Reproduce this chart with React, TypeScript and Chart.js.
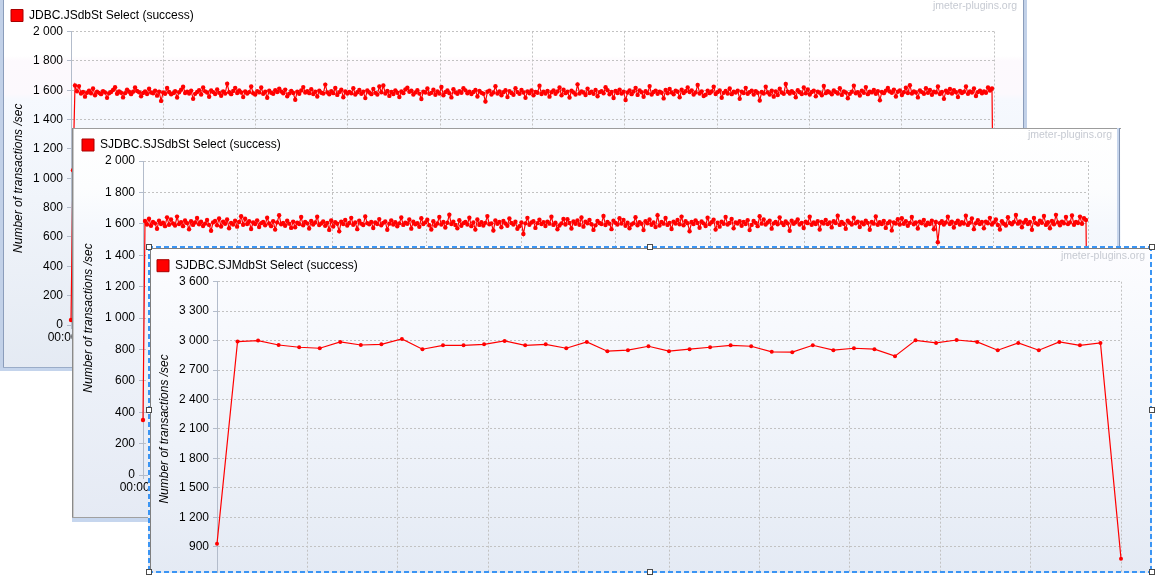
import React, { useEffect, useRef } from "react";
import { Chart, registerables } from "chart.js";

Chart.register(...registerables);

// ---------------- data ----------------
const SERIES_1_LABEL = "JDBC.JSdbSt Select (success)";
const SERIES_2_LABEL = "SJDBC.SJSdbSt Select (success)";
const SERIES_3_LABEL = "SJDBC.SJMdbSt Select (success)";
const Y_TITLE = "Number of transactions /sec";
const WATERMARK = "jmeter-plugins.org";

const SERIES_1_VALUES = [
  34, 1055, 1632, 1592, 1628, 1578, 1588, 1556, 1583, 1597, 1579, 1612, 1566, 1590, 1582, 1573, 1594, 1585, 1548, 1579,
  1588, 1601, 1620, 1576, 1592, 1583, 1551, 1580, 1604, 1589, 1573, 1589, 1618, 1595, 1586, 1558, 1581, 1592, 1574, 1610,
  1584, 1579, 1597, 1563, 1590, 1527, 1584, 1576, 1615, 1588, 1572, 1580, 1593, 1550, 1586, 1603, 1624, 1581, 1590, 1577,
  1596, 1541, 1575, 1588, 1600, 1571, 1619, 1592, 1584, 1555, 1598, 1587, 1574, 1605, 1582, 1562, 1591, 1577, 1644, 1586,
  1573, 1595, 1616, 1581, 1599, 1584, 1553, 1592, 1578, 1587, 1625, 1579, 1571, 1594, 1585, 1618, 1575, 1589, 1549, 1597,
  1583, 1576, 1600, 1588, 1611, 1591, 1579, 1604, 1558, 1577, 1595, 1581, 1535, 1590, 1576, 1598, 1621, 1584, 1593, 1580,
  1607, 1574, 1589, 1557, 1596, 1583, 1577, 1638, 1585, 1572, 1594, 1580, 1615, 1568, 1587, 1603, 1552, 1591, 1578, 1588,
  1579, 1614, 1571, 1586, 1601, 1575, 1590, 1546, 1598, 1584, 1573, 1609, 1582, 1570, 1626, 1586, 1632, 1578, 1595, 1561,
  1588, 1574, 1599, 1583, 1554, 1592, 1580, 1605, 1617, 1589, 1596, 1571, 1585, 1600, 1577, 1540, 1590, 1584, 1612, 1575,
  1582, 1603, 1569, 1591, 1578, 1622, 1566, 1587, 1598, 1580, 1551, 1606, 1585, 1576, 1593, 1583, 1614, 1599, 1579, 1590,
  1574, 1588, 1601, 1557, 1595, 1582, 1576, 1523, 1589, 1597, 1571, 1584, 1627, 1578, 1591, 1566, 1586, 1600, 1553, 1594,
  1581, 1569, 1613, 1587, 1575, 1602, 1584, 1548, 1592, 1579, 1598, 1565, 1588, 1583, 1630, 1574, 1590, 1577, 1595, 1556,
  1586, 1599, 1576, 1591, 1618, 1565, 1603, 1580, 1589, 1550, 1596, 1585, 1571, 1640, 1578, 1592, 1584, 1567, 1611, 1581,
  1590, 1575, 1602, 1559, 1587, 1594, 1579, 1620, 1600, 1572, 1588, 1547, 1595, 1581, 1604, 1577, 1589, 1533, 1584, 1598,
  1573, 1591, 1616, 1568, 1599, 1586, 1555, 1593, 1580, 1628, 1571, 1588, 1597, 1575, 1590, 1583, 1544, 1601, 1579, 1609,
  1585, 1572, 1597, 1589, 1552, 1603, 1581, 1593, 1619, 1588, 1599, 1570, 1585, 1636, 1578, 1592, 1560, 1569, 1596, 1580,
  1591, 1623, 1574, 1587, 1598, 1549, 1582, 1595, 1578, 1612, 1573, 1589, 1584, 1596, 1541, 1590, 1581, 1616, 1576, 1587,
  1597, 1570, 1593, 1583, 1530, 1588, 1578, 1624, 1585, 1571, 1596, 1556, 1591, 1567, 1610, 1584, 1575, 1642, 1589, 1577,
  1594, 1582, 1552, 1600, 1586, 1574, 1619, 1579, 1605, 1571, 1588, 1597, 1558, 1590, 1583, 1566, 1629, 1580, 1593, 1585,
  1572, 1598, 1587, 1577, 1613, 1568, 1591, 1584, 1545, 1575, 1589, 1631, 1579, 1586, 1564, 1597, 1582, 1621, 1573, 1590,
  1585, 1601, 1576, 1593, 1532, 1588, 1580, 1597, 1615, 1591, 1583, 1604, 1557, 1589, 1598, 1567, 1586, 1617, 1581, 1634,
  1578, 1592, 1584, 1551, 1599, 1587, 1576, 1614, 1582, 1601, 1569, 1590, 1585, 1625, 1574, 1588, 1541, 1596, 1583, 1609,
  1577, 1600, 1586, 1553, 1595, 1581, 1589, 1626, 1575, 1592, 1584, 1612, 1560, 1587, 1596, 1579, 1591, 1583, 1619, 1598,
  1612, 180,
];

const SERIES_2_VALUES = [
  350, 1618, 1596, 1632, 1588, 1612, 1603, 1568, 1620, 1599, 1607, 1585, 1641, 1594, 1628, 1602, 1589, 1646, 1598, 1610,
  1585, 1621, 1604, 1565, 1617, 1593, 1608, 1637, 1597, 1613, 1586, 1601, 1624, 1593, 1556, 1609, 1618, 1590, 1634, 1583,
  1614, 1600, 1627, 1572, 1606, 1596, 1619, 1582, 1611, 1648, 1594, 1632, 1598, 1616, 1567, 1608, 1599, 1622, 1580, 1604,
  1612, 1591, 1639, 1602, 1585, 1617, 1563, 1609, 1655, 1597, 1605, 1588, 1620, 1601, 1574, 1614, 1578, 1607, 1599, 1643,
  1590, 1611, 1603, 1570, 1618, 1596, 1608, 1645, 1592, 1602, 1615, 1587, 1606, 1561, 1621, 1583, 1610, 1600, 1552, 1613,
  1598, 1624, 1589, 1605, 1638, 1594, 1609, 1566, 1620, 1601, 1592, 1647, 1604, 1597, 1612, 1573, 1608, 1599, 1630, 1590,
  1606, 1615, 1562, 1601, 1622, 1596, 1610, 1584, 1603, 1640, 1593, 1607, 1600, 1628, 1569, 1613, 1597, 1604, 1581, 1636,
  1599, 1609, 1626, 1591, 1564, 1617, 1588, 1602, 1644, 1595, 1611, 1576, 1607, 1658, 1598, 1614, 1592, 1571, 1623, 1587,
  1604, 1612, 1596, 1639, 1585, 1608, 1563, 1627, 1593, 1610, 1589, 1606, 1649, 1597, 1603, 1557, 1621, 1600, 1611, 1578,
  1618, 1602, 1588, 1634, 1605, 1595, 1613, 1568, 1584, 1609, 1535, 1603, 1638, 1594, 1608, 1617, 1574, 1604, 1626, 1598,
  1610, 1586, 1614, 1601, 1645, 1593, 1607, 1565, 1589, 1603, 1631, 1596, 1629, 1605, 1570, 1615, 1600, 1621, 1594, 1640,
  1582, 1613, 1603, 1624, 1597, 1561, 1590, 1618, 1605, 1599, 1650, 1592, 1611, 1601, 1566, 1620, 1606, 1595, 1636, 1602,
  1625, 1588, 1607, 1572, 1596, 1604, 1642, 1591, 1610, 1600, 1560, 1616, 1603, 1627, 1594, 1608, 1579, 1654, 1589, 1612,
  1601, 1637, 1593, 1606, 1567, 1614, 1602, 1624, 1597, 1646, 1590, 1617, 1604, 1553, 1611, 1599, 1622, 1605, 1575, 1615,
  1603, 1586, 1639, 1598, 1610, 1626, 1563, 1607, 1582, 1613, 1600, 1644, 1596, 1605, 1631, 1571, 1609, 1602, 1616, 1588,
  1612, 1599, 1623, 1560, 1593, 1618, 1606, 1585, 1648, 1601, 1628, 1595, 1608, 1620, 1569, 1603, 1611, 1597, 1641, 1606,
  1592, 1615, 1603, 1556, 1619, 1600, 1610, 1627, 1596, 1606, 1573, 1613, 1604, 1645, 1594, 1609, 1599, 1617, 1564, 1611,
  1602, 1624, 1598, 1608, 1577, 1616, 1605, 1652, 1593, 1611, 1600, 1568, 1619, 1607, 1596, 1639, 1603, 1614, 1580, 1609,
  1597, 1620, 1606, 1562, 1612, 1601, 1647, 1594, 1610, 1599, 1618, 1574, 1604, 1615, 1558, 1608, 1602, 1629, 1595, 1635,
  1600, 1617, 1588, 1606, 1643, 1597, 1609, 1570, 1614, 1603, 1625, 1590, 1607, 1598, 1619, 1565, 1611, 1483, 1604, 1616,
  1595, 1608, 1645, 1599, 1613, 1576, 1605, 1620, 1596, 1610, 1602, 1651, 1593, 1607, 1634, 1566, 1604, 1623, 1598, 1611,
  1571, 1614, 1603, 1638, 1596, 1609, 1628, 1592, 1564, 1617, 1600, 1589, 1642, 1605, 1597, 1612, 1656, 1601, 1615, 1578,
  1608, 1624, 1599, 1611, 1562, 1637, 1604, 1596, 1620, 1606, 1650, 1593, 1610, 1572, 1618, 1597, 1657, 1608, 1590, 1614,
  1603, 1643, 1598, 1609, 1653, 1594, 1612, 1605, 1646, 1600, 1636, 1624, 300,
];

const SERIES_3_VALUES = [
  930, 2990, 3000, 2955, 2932, 2922, 2986, 2955, 2962, 3016, 2912, 2952, 2952, 2962, 2996, 2952, 2962, 2922, 2986, 2892,
  2902, 2942, 2892, 2912, 2932, 2952, 2942, 2885, 2882, 2952, 2902, 2922, 2912, 2841, 3003, 2976, 3006, 2986, 2902, 2976,
  2902, 2986, 2952, 2976, 778,
];

const X1_TICK_LABELS = ["00:00:00", "00:01:32", "00:03:04", "00:04:36", "00:06:08", "00:07:40", "00:09:12", "00:10:44", "00:12:16", "00:13:48", "00:15:20"];
const X2_TICK_LABELS = ["00:00:00", "00:01:34", "00:03:08", "00:04:42", "00:06:16", "00:07:50", "00:09:24", "00:10:58", "00:12:32", "00:14:06", "00:15:40"];
const X3_TICK_LABELS = ["00:00:00", "00:04:24", "00:08:48", "00:13:12", "00:17:36", "00:22:00", "00:26:24", "00:30:48", "00:35:12", "00:39:36", "00:44:00"];

const Y1_TICKS = [0, 200, 400, 600, 800, 1000, 1200, 1400, 1600, 1800, 2000];
const Y2_TICKS = [0, 200, 400, 600, 800, 1000, 1200, 1400, 1600, 1800, 2000];
const Y3_TICKS = [900, 1200, 1500, 1800, 2100, 2400, 2700, 3000, 3300, 3600];
const Y1_RANGE = [0, 2000];
const Y2_RANGE = [0, 2000];
const Y3_RANGE = [600, 3600];

// ---------------- styling ----------------
const FONT_FAMILY = "'Liberation Sans', Arial, Helvetica, sans-serif";
const GRID_COLOR = "#c2c2c2";
const AXIS_COLOR = "#b3bccb";
const LINE_RED = "#ff0000";

type Layout = {
  w: number;
  h: number;
  left: number;
  top: number;
  right: number;
  bottom: number;
  padLeft: number;
  padTop: number;
  legendPad: number;
  titlePad: number;
};

const LAYOUT_1: Layout = { w: 1023, h: 368, left: 71, top: 31.5, right: 994, bottom: 325, padLeft: 4, padTop: 0, legendPad: 7, titlePad: 7 };
const LAYOUT_2: Layout = { w: 1047, h: 390, left: 71, top: 33, right: 1016, bottom: 347, padLeft: 2, padTop: 0, legendPad: 8, titlePad: 7.8 };
const LAYOUT_3: Layout = { w: 1003, h: 370, left: 69, top: 35.7, right: 973, bottom: 330.1, padLeft: 0, padTop: 2, legendPad: 9, titlePad: 9.8 };

function withSpaces(v: number): string {
  return String(Math.round(v)).replace(/\B(?=(\d{3})+(?!\d))/g, " ");
}

function makeConfig(
  label: string,
  values: number[],
  xLabels: string[],
  yTicks: number[],
  yRange: number[],
  L: Layout,
  pointRadius: number
): any {
  const n = values.length;
  const tickFont = { family: FONT_FAMILY, size: 12 };
  const grid = { color: GRID_COLOR, lineWidth: 1, tickLength: 4, tickColor: AXIS_COLOR, tickWidth: 1 };
  const border = { display: true, color: AXIS_COLOR, width: 1, dash: [2, 2] };
  return {
    type: "line",
    data: {
      datasets: [
        {
          label,
          data: values.map((v, i) => ({ x: i, y: v })),
          borderColor: LINE_RED,
          backgroundColor: LINE_RED,
          pointBackgroundColor: LINE_RED,
          borderWidth: 1.2,
          pointRadius,
          pointBorderWidth: 0,
          pointHoverRadius: 0,
          tension: 0,
          fill: false,
          clip: false,
        },
      ],
    },
    options: {
      responsive: false,
      animation: false,
      events: [],
      layout: { padding: { left: L.padLeft, top: L.padTop, right: L.w - L.right, bottom: 0 } },
      plugins: {
        legend: {
          display: true,
          position: "top",
          align: "start",
          labels: {
            boxWidth: 12,
            boxHeight: 12,
            padding: L.legendPad,
            color: "#000000",
            font: { family: FONT_FAMILY, size: 12 },
            generateLabels: (chart: any) =>
              (Chart.defaults.plugins.legend.labels as any)
                .generateLabels(chart)
                .map((it: any) => ({ ...it, fillStyle: LINE_RED, strokeStyle: "#a80000", lineWidth: 1 })),
          },
        },
        tooltip: { enabled: false },
      },
      scales: {
        x: {
          type: "linear",
          min: 0,
          max: n - 1,
          afterBuildTicks: (s: any) => {
            s.ticks = xLabels.map((_, i) => ({ value: (i * (n - 1)) / (xLabels.length - 1) }));
          },
          afterFit: (s: any) => {
            s.height = L.h - L.bottom;
          },
          ticks: {
            autoSkip: false,
            maxRotation: 0,
            minRotation: 0,
            padding: 1,
            color: "#000000",
            font: tickFont,
            callback: (_v: any, i: number) => xLabels[i],
          },
          grid,
          border,
        },
        y: {
          type: "linear",
          min: yRange[0],
          max: yRange[1],
          afterBuildTicks: (s: any) => {
            s.ticks = yTicks.map((v) => ({ value: v }));
          },
          afterFit: (s: any) => {
            s.width = L.left - L.padLeft;
            s.paddingTop = L.top;
          },
          ticks: {
            padding: 4,
            color: "#000000",
            font: tickFont,
            callback: (v: any) => withSpaces(Number(v)),
          },
          grid,
          border,
          title: {
            display: true,
            text: Y_TITLE,
            color: "#000000",
            font: { family: FONT_FAMILY, size: 12, style: "italic" },
            padding: { top: L.titlePad, bottom: 0 },
          },
        },
      },
    },
  };
}

function ChartBox(props: {
  label: string;
  values: number[];
  xLabels: string[];
  yTicks: number[];
  yRange: number[];
  layout: Layout;
  pointRadius: number;
}) {
  const ref = useRef<HTMLCanvasElement | null>(null);
  useEffect(() => {
    if (!ref.current) return;
    const chart = new Chart(
      ref.current,
      makeConfig(props.label, props.values, props.xLabels, props.yTicks, props.yRange, props.layout, props.pointRadius)
    );
    return () => chart.destroy();
  }, []);
  const { w, h } = props.layout;
  return (
    <canvas
      ref={ref}
      width={w}
      height={h}
      style={{ position: "absolute", left: 0, top: 0, width: w, height: h, display: "block" }}
    />
  );
}

function Rect(p: { x: number; y: number; w: number; h: number; bg: string }) {
  return <div style={{ position: "absolute", left: p.x, top: p.y, width: p.w, height: p.h, background: p.bg }} />;
}

function Watermark(p: { right: number; top: number }) {
  return (
    <div
      style={{
        position: "absolute",
        right: p.right,
        top: p.top,
        fontFamily: FONT_FAMILY,
        fontSize: 10.5,
        lineHeight: "12px",
        color: "#c6cad2",
        whiteSpace: "nowrap",
      }}
    >
      {WATERMARK}
    </div>
  );
}

function Handle(p: { cx: number; cy: number }) {
  return (
    <div
      style={{
        position: "absolute",
        left: p.cx - 3,
        top: p.cy - 3,
        width: 6,
        height: 6,
        boxSizing: "border-box",
        border: "1px solid #4a4a4a",
        background: "#ffffff",
      }}
    />
  );
}

const DASH_H = "repeating-linear-gradient(to right, #3b95f4 0px, #3b95f4 5px, transparent 5px, transparent 8px)";
const DASH_V = "repeating-linear-gradient(to bottom, #3b95f4 0px, #3b95f4 5px, transparent 5px, transparent 8px)";

export default function App() {
  return (
    <div style={{ position: "absolute", left: 0, top: 0, width: 1163, height: 580, overflow: "hidden", background: "#ffffff" }}>
      {/* Window 1 */}
      <div
        style={{
          position: "absolute",
          left: 0,
          top: 0,
          width: 1027,
          height: 371,
          overflow: "hidden",
          background:
            "linear-gradient(to bottom, #ffffff 0px, #ffffff 56px, #fdf9fd 61px, #fcf9fd 94px, #f6f9fe 99px, #f0f4fa 200px, #e4eaf3 371px)",
        }}
      >
        <ChartBox
          label={SERIES_1_LABEL}
          values={SERIES_1_VALUES}
          xLabels={X1_TICK_LABELS}
          yTicks={Y1_TICKS}
          yRange={Y1_RANGE}
          layout={LAYOUT_1}
          pointRadius={2.2}
        />
        <Watermark right={10} top={-1} />
        <Rect x={0} y={0} w={3} h={371} bg="#c2d1e8" />
        <Rect x={3} y={0} w={1} h={368} bg="#8b9dbb" />
        <Rect x={1023} y={0} w={1} h={368} bg="#8b9dbb" />
        <Rect x={1024} y={0} w={3} h={371} bg="#c2d1e8" />
        <Rect x={3} y={367} w={1021} h={1} bg="#9aacc8" />
        <Rect x={0} y={368} w={1027} h={3} bg="#c4d4ec" />
      </div>

      {/* Window 2 */}
      <div
        style={{
          position: "absolute",
          left: 72,
          top: 128,
          width: 1049,
          height: 394,
          overflow: "hidden",
          background:
            "linear-gradient(to bottom, #ffffff 0px, #fcfdfe 60px, #f5f8fd 100px, #eef2f9 220px, #e5eaf4 394px)",
        }}
      >
        <ChartBox
          label={SERIES_2_LABEL}
          values={SERIES_2_VALUES}
          xLabels={X2_TICK_LABELS}
          yTicks={Y2_TICKS}
          yRange={Y2_RANGE}
          layout={LAYOUT_2}
          pointRadius={2.2}
        />
        <Watermark right={9} top={0} />
        <Rect x={0} y={0} w={1049} h={1} bg="#9c9c9c" />
        <Rect x={0} y={0} w={1} h={389} bg="#8a8a8a" />
        <Rect x={1} y={1} w={1} h={388} bg="#c8c8c8" />
        <Rect x={1045} y={0} w={2} h={394} bg="#c6d5ec" />
        <Rect x={1047} y={0} w={1} h={394} bg="#8193b2" />
        <Rect x={0} y={389} w={1045} h={1} bg="#a0a0a0" />
        <Rect x={0} y={390} w={1047} h={4} bg="#c6d6ee" />
      </div>

      {/* Window 3 */}
      <div
        style={{
          position: "absolute",
          left: 148,
          top: 246,
          width: 1004,
          height: 327,
          overflow: "hidden",
          background: "linear-gradient(to bottom, #fdfdff 0px, #f7f9fd 80px, #eef2f9 200px, #e4eaf4 327px)",
        }}
      >
        <ChartBox
          label={SERIES_3_LABEL}
          values={SERIES_3_VALUES}
          xLabels={X3_TICK_LABELS}
          yTicks={Y3_TICKS}
          yRange={Y3_RANGE}
          layout={LAYOUT_3}
          pointRadius={2}
        />
        <Watermark right={7} top={3} />
      </div>

      {/* Window 3 frame and selection */}
      <Rect x={150} y={248} w={1000} h={1} bg="#7f7f7f" />
      <Rect x={150} y={248} w={1} h={323} bg="#7f7f7f" />
      <Rect x={148} y={246} w={1004} h={2} bg={DASH_H} />
      <Rect x={148} y={571} w={1004} h={2} bg={DASH_H} />
      <Rect x={148} y={246} w={2} h={327} bg={DASH_V} />
      <Rect x={1150} y={246} w={2} h={327} bg={DASH_V} />
      <Handle cx={148.5} cy={246.5} />
      <Handle cx={650} cy={246.5} />
      <Handle cx={1151.5} cy={246.5} />
      <Handle cx={148.5} cy={410} />
      <Handle cx={1151.5} cy={410} />
      <Handle cx={148.5} cy={572} />
      <Handle cx={650} cy={572} />
      <Handle cx={1151.5} cy={572} />
    </div>
  );
}
